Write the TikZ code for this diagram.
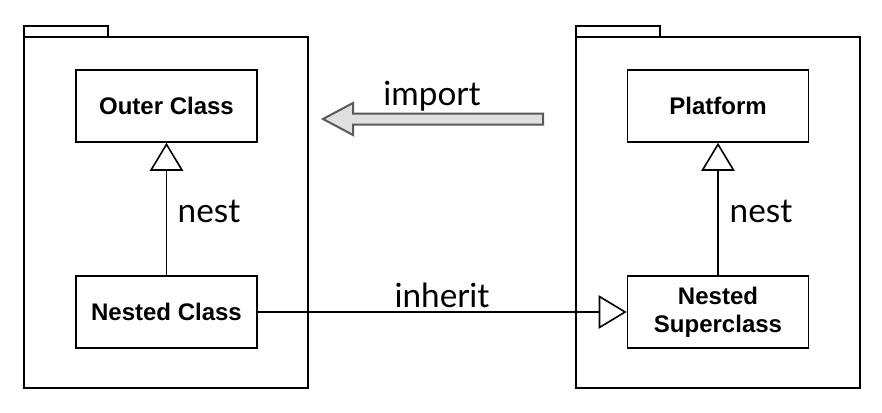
\documentclass[tikz,border=0pt]{standalone}
\usepackage{fontspec}
\setmainfont{Liberation Sans}
\newfontfamily\lblfont{Lato}
\usetikzlibrary{arrows.meta,positioning}

\begin{document}
\begin{tikzpicture}[
			x = 0.75pt, y = -0.75pt,
			line width = 1.2pt,
			classbox/.style = {draw, minimum width = 135.75pt, minimum height = 54pt, inner sep = 2pt,
				align = center, font = \fontsize{18}{21}\selectfont\bfseries},
			relname/.style = {anchor = base, font = \fontsize{25}{30}\selectfont\lblfont},
			inh/.style = {-{Triangle[open, length = 21pt, width = 25pt, line width = 1.2pt]}}]
			\useasboundingbox (0,0) rectangle (882,412);

			% packages
			\draw (24,26) rectangle (108,37);
			\draw (24,37) rectangle (308,388);
			\draw (576,26) rectangle (660,37);
			\draw (576,37) rectangle (860,388);

			% classes
			\node[classbox] (outer) at (166.5,106) {Outer Class};
			\node[classbox] (nested) at (166.5,312) {Nested Class};
			\node[classbox] (platform) at (718,106) {Platform};
			\node[classbox] (nestedsup) at (718,312) {Nested\\Superclass};

			\draw[inh] (nested) -- (outer);
			\draw[inh] (nestedsup) -- (platform);
			\draw[inh] (nested) -- (nestedsup);

			\node[relname] (nestl) at (209,222) {nest};
			\node[relname] (nestr) at (761,222) {nest};
			\node[relname] (inhl) at (442,307) {inherit};

			% import arrow
			\filldraw[fill = black!12, draw = black!65, line width = 1.5pt]
				(543,113.5) -- (353,113.5) -- (353,103) -- (323,119) -- (353,135) -- (353,124.5) -- (543,124.5) -- cycle;
			\node[relname] (impl) at (432,105) {import};

		\end{tikzpicture}
\end{document}
